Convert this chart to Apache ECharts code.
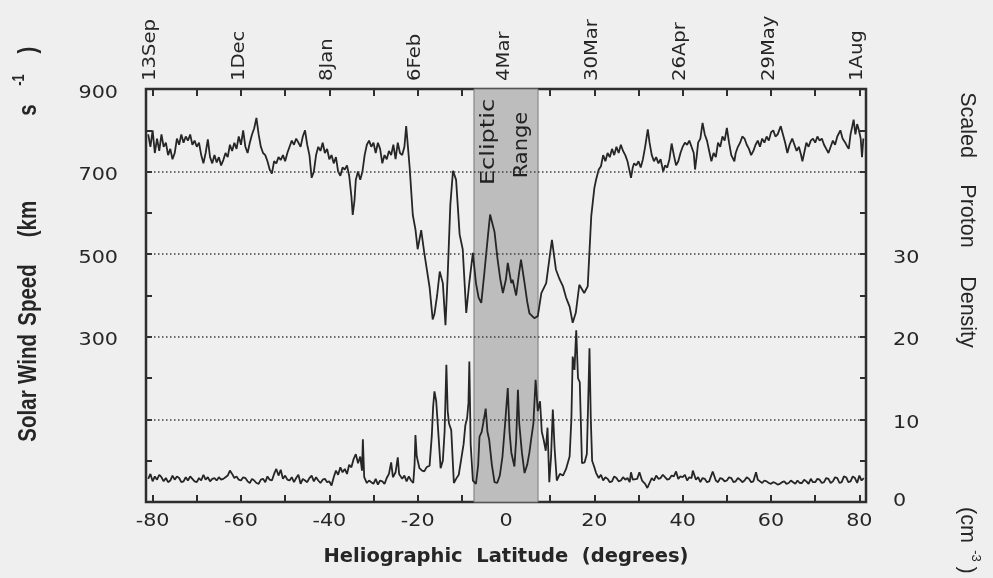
<!DOCTYPE html>
<html>
<head>
<meta charset="utf-8">
<script src="https://cdn.jsdelivr.net/npm/echarts@6/dist/echarts.min.js"></script>
<style>
  html, body { margin: 0; padding: 0; background: #efefef; }
  #chart { width: 993px; height: 578px; }
</style>
</head>
<body>
<div id="chart"></div>
<script>
// Latitude ticks (bottom axis) and the matching spacecraft dates (top axis)
const latitudeTicks = [-80, -60, -40, -20, 0, 20, 40, 60, 80];
const latitudeMinorTicks = [-80, -70, -60, -50, -40, -30, -20, -10, 0, 10, 20, 30, 40, 50, 60, 70, 80];
const dateLabels = ['13Sep', '1Dec', '8Jan', '6Feb', '4Mar', '30Mar', '26Apr', '29May', '1Aug'];
const speedTickLabels = [300, 500, 700, 900];
const speedGridLines = [100, 300, 500, 700];
const densityTickLabels = [0, 10, 20, 30];
const eclipticRange = [-7.25, 7.25];

// Solar wind speed, km/s, against heliographic latitude (deg)
const speedTrace = [
  [-81, 790], [-80.5, 760], [-80, 800], [-79.5, 745], [-79, 780], [-78.5, 750], [-78, 790], [-77.5, 760],
  [-77, 770], [-76.5, 740], [-76, 755], [-75.5, 730], [-75, 745], [-74.5, 780], [-74, 765], [-73.5, 790],
  [-73, 770], [-72.5, 785], [-72, 775], [-71.5, 790], [-71, 765], [-70.5, 775], [-70, 760], [-69.5, 770],
  [-69, 740], [-68.5, 720], [-68, 745], [-67.5, 778], [-67, 735], [-66.5, 720], [-66, 740], [-65.5, 722],
  [-65, 735], [-64.5, 715], [-64, 728], [-63.5, 745], [-63, 735], [-62.5, 765], [-62, 750], [-61.5, 770],
  [-61, 755], [-60.5, 785], [-60, 765], [-59.5, 800], [-59, 760], [-58.5, 745], [-58, 770], [-57.5, 790],
  [-57, 805], [-56.5, 830], [-56, 790], [-55.5, 760], [-55, 745], [-54.5, 740], [-54, 725], [-53.5, 705],
  [-53, 695], [-52.5, 725], [-52, 720], [-51.5, 735], [-51, 728], [-50.5, 740], [-50, 725], [-49.5, 745],
  [-49, 760], [-48.5, 775], [-48, 765], [-47.5, 780], [-47, 770], [-46.5, 760], [-46, 785], [-45.5, 800],
  [-45, 765], [-44.5, 740], [-44, 685], [-43.5, 700], [-43, 740], [-42.5, 760], [-42, 750], [-41.5, 770],
  [-41, 745], [-40.5, 755], [-40, 730], [-39.5, 740], [-39, 720], [-38.5, 735], [-38, 700], [-37.5, 690],
  [-37, 710], [-36.5, 705], [-36, 715], [-35.5, 690], [-35, 640], [-34.7, 595], [-34.3, 630], [-34, 680],
  [-33.5, 700], [-33, 680], [-32.5, 700], [-32, 740], [-31.5, 765], [-31, 775], [-30.5, 760], [-30, 770],
  [-29.5, 745], [-29, 770], [-28.5, 755], [-28, 720], [-27.5, 740], [-27, 730], [-26.5, 750], [-26, 740],
  [-25.5, 765], [-25, 730], [-24.5, 770], [-24, 745], [-23.5, 740], [-23, 760], [-22.6, 810], [-22.2, 760],
  [-21.8, 708], [-21.1, 595], [-20.5, 560], [-20, 512], [-19.2, 558], [-18.5, 503], [-17.3, 420], [-16.6, 342],
  [-16.2, 355], [-15.6, 400], [-15, 458], [-14.3, 430], [-13.7, 328], [-13.2, 450], [-12.6, 620], [-12, 702],
  [-11.3, 680], [-10.5, 548], [-9.8, 512], [-9, 358], [-8.3, 432], [-7.5, 503], [-6.8, 430], [-6.2, 395],
  [-5.6, 382], [-4.9, 455], [-4.1, 543], [-3.6, 596], [-3.1, 575], [-2.6, 554], [-1.9, 487], [-1.3, 440],
  [-0.7, 406], [0, 440], [0.4, 479], [1.2, 430], [1.5, 438], [2.3, 400], [2.9, 450], [3.4, 487],
  [4.2, 430], [4.8, 385], [5.3, 357], [6.4, 345], [7.2, 350], [8, 406], [9.1, 430], [9.8, 487],
  [10.4, 535], [11.3, 463], [12.1, 440], [12.9, 422], [13.6, 395], [14.4, 373], [15.1, 334], [15.8, 358],
  [16.6, 426], [17.7, 406], [18.5, 422], [19.3, 592], [20, 660], [20.4, 681], [21, 705], [21.5, 713],
  [22, 740], [22.5, 725], [23, 745], [23.5, 735], [24, 755], [24.5, 740], [25, 760], [25.5, 745],
  [26, 765], [26.5, 750], [27, 740], [27.5, 725], [28, 700], [28.3, 685], [28.7, 710], [29, 720],
  [29.5, 715], [30, 725], [30.5, 710], [31, 730], [31.5, 760], [32.1, 802], [32.5, 770], [33, 740],
  [33.5, 725], [34, 735], [34.5, 720], [35, 730], [35.6, 700], [36, 715], [36.5, 710], [37, 730],
  [37.5, 768], [38, 740], [38.5, 715], [39, 725], [39.5, 745], [40, 760], [40.5, 770], [41, 765],
  [41.5, 775], [42, 760], [42.5, 745], [42.8, 705], [43.2, 740], [43.5, 770], [44, 780], [44.5, 818],
  [45, 790], [45.5, 775], [46, 750], [46.5, 725], [47, 745], [47.5, 735], [48, 770], [48.5, 760],
  [49, 785], [49.5, 775], [50, 806], [50.5, 770], [51, 740], [51.7, 725], [52, 745], [52.5, 760],
  [53, 770], [53.5, 785], [54, 780], [54.5, 765], [55, 755], [55.5, 740], [56, 750], [56.5, 765],
  [57, 775], [57.5, 760], [58, 780], [58.5, 770], [59, 785], [59.5, 775], [60, 795], [60.5, 800],
  [61, 785], [61.5, 790], [62.2, 810], [62.7, 790], [63.2, 770], [63.7, 745], [64.2, 765], [64.8, 780],
  [65.3, 765], [65.8, 750], [66.3, 760], [66.8, 740], [67.1, 725], [67.6, 750], [68, 770], [68.5, 760],
  [69, 775], [69.5, 780], [70, 770], [70.5, 785], [71, 775], [71.5, 780], [72, 765], [72.5, 755],
  [73, 745], [73.5, 760], [74, 775], [74.5, 765], [75, 785], [75.7, 800], [76.2, 780], [76.8, 770],
  [77.3, 760], [77.6, 755], [78, 790], [78.4, 810], [78.7, 826], [79.1, 790], [79.5, 815], [79.9, 800],
  [80.3, 780], [80.6, 735], [80.9, 780]
];

// Scaled proton density, cm^-3, against heliographic latitude (deg)
const densityTrace = [
  [-81, 2.8], [-80.5, 3.4], [-80, 2.5], [-79.5, 3.1], [-79, 2.7], [-78.5, 3.3], [-78, 3.0], [-77.5, 2.5],
  [-77, 2.9], [-76.5, 2.4], [-76, 2.6], [-75.5, 3.2], [-75, 2.7], [-74.5, 3.1], [-74, 2.9], [-73.5, 2.4],
  [-73, 2.5], [-72.5, 3.0], [-72, 2.6], [-71.5, 3.1], [-71, 2.8], [-70.5, 2.5], [-70, 2.4], [-69.5, 2.9],
  [-69, 2.6], [-68.5, 3.3], [-68, 2.7], [-67.5, 3.0], [-67, 2.5], [-66.5, 2.8], [-66, 2.9], [-65.5, 2.6],
  [-65, 3.0], [-64.5, 2.7], [-64, 2.8], [-63.5, 3.0], [-63, 3.2], [-62.5, 3.8], [-62, 3.4], [-61.5, 2.9],
  [-61, 3.1], [-60.5, 2.7], [-60, 2.6], [-59.5, 3.0], [-59, 2.9], [-58.5, 2.5], [-58, 2.3], [-57.5, 2.8],
  [-57, 2.6], [-56.5, 2.3], [-56, 2.2], [-55.5, 2.7], [-55, 2.8], [-54.5, 2.4], [-54, 3.1], [-53.5, 2.7],
  [-53, 2.6], [-52.5, 3.4], [-52, 4.0], [-51.5, 3.2], [-51, 3.9], [-50.5, 2.8], [-50, 3.2], [-49.5, 2.7],
  [-49, 2.6], [-48.5, 3.0], [-48, 2.4], [-47.5, 2.9], [-47, 3.3], [-46.5, 2.2], [-46, 2.8], [-45.5, 2.6],
  [-45, 2.4], [-44.5, 2.9], [-44, 3.2], [-43.5, 2.5], [-43, 3.0], [-42.5, 2.6], [-42, 2.3], [-41.5, 2.7],
  [-41, 2.8], [-40.5, 2.4], [-40, 2.5], [-39.5, 2.0], [-39, 3.0], [-38.5, 3.8], [-38, 3.3], [-37.5, 4.2],
  [-37, 3.6], [-36.5, 4.0], [-36, 3.4], [-35.5, 4.5], [-35, 4.2], [-34.5, 5.2], [-34, 5.8], [-33.5, 4.7],
  [-33, 5.5], [-32.6, 3.8], [-32.4, 7.6], [-32.1, 3.0], [-31.5, 2.3], [-31, 2.6], [-30.5, 2.4], [-30, 2.2],
  [-29.5, 2.8], [-29, 2.1], [-28.5, 2.6], [-28, 2.5], [-27.5, 2.2], [-27, 2.9], [-26.5, 3.4], [-26, 4.8],
  [-25.6, 3.0], [-25, 3.6], [-24.5, 5.4], [-24.2, 3.4], [-23.5, 2.8], [-23, 3.2], [-22.5, 2.5], [-22, 3.1],
  [-21.5, 2.6], [-21, 2.3], [-20.7, 4.5], [-20.5, 8.1], [-20.2, 5.5], [-19.6, 4.1], [-19, 3.8], [-18.5, 3.7],
  [-18, 4.2], [-17.3, 4.4], [-16.8, 8.0], [-16.5, 11.5], [-16.2, 13.4], [-15.8, 12.2], [-15.4, 9.0], [-14.8, 4.1],
  [-14.3, 5.0], [-13.9, 8.5], [-13.5, 16.6], [-13.2, 11.0], [-12.9, 9.5], [-12.4, 8.7], [-11.8, 2.3], [-11.3, 2.8],
  [-10.7, 3.3], [-10.1, 5.3], [-9.6, 7.0], [-9.2, 9.3], [-8.8, 10.2], [-8.5, 12.0], [-8.3, 17.0], [-8.0, 7.0],
  [-7.5, 2.6], [-6.8, 2.2], [-6.3, 4.5], [-6.0, 7.9], [-5.5, 8.5], [-5.0, 10.0], [-4.6, 11.3], [-4.2, 8.5],
  [-3.8, 7.5], [-3.2, 4.5], [-2.6, 2.4], [-2.0, 2.3], [-1.4, 3.2], [-0.8, 5.5], [-0.2, 9.5], [0.4, 13.8],
  [0.8, 8.5], [1.2, 6.0], [1.9, 4.3], [2.3, 7.5], [2.7, 13.6], [3.0, 9.5], [3.6, 6.0], [4.2, 3.5],
  [4.8, 4.5], [5.3, 6.0], [5.7, 7.6], [6.2, 9.5], [6.7, 14.8], [7.2, 11.0], [7.7, 12.2], [8.1, 8.5],
  [8.5, 7.6], [9.0, 6.2], [9.4, 9.0], [9.8, 2.4], [10.2, 5.5], [10.6, 11.2], [11.0, 6.5], [11.5, 2.6],
  [12.2, 3.4], [12.9, 3.2], [13.6, 4.0], [14.4, 5.5], [14.8, 10.0], [15.1, 17.6], [15.5, 16.0], [15.9, 20.8],
  [16.3, 15.0], [16.7, 14.5], [17.2, 4.7], [17.8, 4.8], [18.3, 5.8], [18.6, 12.0], [18.9, 18.6], [19.2, 10.0],
  [19.5, 5.0], [20.0, 4.2], [20.4, 3.5], [21, 2.9], [21.5, 3.3], [22, 2.6], [22.5, 3.0], [23, 2.8],
  [23.5, 2.4], [24, 2.5], [24.5, 3.1], [25, 2.9], [25.5, 2.5], [26, 2.6], [26.5, 3.0], [27, 2.7],
  [27.5, 2.9], [28, 2.4], [28.3, 3.6], [28.7, 2.7], [29, 2.5], [29.7, 2.8], [30.2, 3.6], [30.8, 2.6],
  [31.5, 2.2], [32, 1.7], [32.5, 2.3], [33, 2.9], [33.5, 2.6], [34, 3.2], [34.5, 2.8], [35, 2.9],
  [35.5, 3.3], [36, 3.0], [36.5, 2.7], [37, 2.8], [37.5, 3.2], [38, 3.1], [38.5, 3.7], [39, 2.8],
  [39.5, 3.1], [40, 3.0], [40.5, 3.3], [41, 2.6], [41.5, 3.0], [42, 2.9], [42.3, 3.8], [43, 2.7],
  [43.5, 3.0], [44, 2.4], [44.5, 2.9], [45, 2.8], [45.5, 2.4], [46, 2.5], [46.8, 3.7], [47.5, 2.6],
  [48, 2.4], [48.5, 2.9], [49, 2.8], [49.5, 2.5], [50, 2.6], [50.5, 3.0], [51, 2.9], [51.5, 2.4],
  [52, 2.5], [52.5, 2.9], [53, 2.7], [53.5, 2.4], [54, 2.6], [54.5, 3.0], [55, 2.8], [55.5, 2.4],
  [56, 2.5], [56.6, 3.6], [57, 2.7], [57.5, 2.5], [58, 2.3], [58.5, 2.6], [59, 2.5], [59.5, 2.3],
  [60, 2.2], [60.5, 2.4], [61, 2.3], [61.5, 2.1], [62, 2.2], [62.5, 2.4], [63, 2.5], [63.5, 2.2],
  [64, 2.3], [64.5, 2.6], [65, 2.4], [65.5, 2.2], [66, 2.6], [66.5, 2.3], [67, 2.3], [67.5, 2.7],
  [68, 2.5], [68.5, 2.2], [69, 2.8], [69.5, 2.4], [70, 2.4], [70.5, 2.8], [71, 2.7], [71.5, 2.3],
  [72, 2.4], [72.5, 2.9], [73, 2.8], [73.5, 2.3], [74, 2.5], [74.5, 3.0], [75, 2.9], [75.5, 2.3],
  [76, 2.4], [76.5, 3.1], [77, 3.0], [77.5, 2.4], [78, 2.5], [78.5, 3.1], [79, 2.9], [79.5, 2.3],
  [80, 3.2], [80.5, 2.6], [81, 2.9]
];

const INK = '#262626';
const chart = echarts.init(document.getElementById('chart'), null, { renderer: 'canvas' });

const gridBox = { left: 146, right: 127, top: 89, bottom: 76 };
const tickStyle = { color: '#2e2e2e', width: 2 };

chart.setOption({
  backgroundColor: '#efefef',
  animation: false,
  grid: {
    left: gridBox.left, right: gridBox.right, top: gridBox.top, bottom: gridBox.bottom,
    show: true, borderColor: '#2e2e2e', borderWidth: 2.5, backgroundColor: 'transparent'
  },
  xAxis: [
    {
      type: 'value', position: 'bottom', min: -81.5, max: 81.5,
      axisLine: { show: false, onZero: false },
      axisTick: { show: true, inside: true, length: 7, customValues: latitudeMinorTicks, lineStyle: tickStyle },
      axisLabel: { show: false },
      splitLine: { show: false }
    },
    {
      type: 'value', position: 'top', min: -81.5, max: 81.5,
      axisLine: { show: false, onZero: false },
      axisTick: { show: true, inside: true, length: 7, customValues: latitudeMinorTicks, lineStyle: tickStyle },
      axisLabel: { show: false },
      splitLine: { show: false }
    }
  ],
  yAxis: [
    {
      type: 'value', position: 'left', min: -100, max: 900, interval: 100,
      axisLine: { show: false, onZero: false },
      axisTick: { show: true, inside: true, length: 6, lineStyle: tickStyle },
      axisLabel: { show: false },
      splitLine: { show: false }
    },
    {
      type: 'value', position: 'right', min: 0, max: 50, interval: 5,
      axisLine: { show: false, onZero: false },
      axisTick: { show: true, inside: true, length: 6, lineStyle: tickStyle },
      axisLabel: { show: false },
      splitLine: { show: false }
    }
  ],
  series: [
    {
      // ecliptic band and the dotted reference lines
      type: 'line', xAxisIndex: 0, yAxisIndex: 0, data: [], z: 1, silent: true,
      markArea: {
        silent: true,
        itemStyle: { color: '#bdbdbd', borderColor: '#7a7a7a', borderWidth: 1 },
        data: [[{ xAxis: eclipticRange[0] }, { xAxis: eclipticRange[1] }]]
      },
      markLine: {
        silent: true, symbol: 'none', label: { show: false },
        lineStyle: { type: [1.5, 2.5], color: '#404040', width: 1.6 },
        data: speedGridLines.map(v => ({ yAxis: v }))
      }
    },
    {
      name: 'Solar Wind Speed', type: 'line', xAxisIndex: 0, yAxisIndex: 0, z: 3,
      data: speedTrace, showSymbol: false, symbol: 'none',
      lineStyle: { color: INK, width: 1.8 }
    },
    {
      name: 'Scaled Proton Density', type: 'line', xAxisIndex: 0, yAxisIndex: 1, z: 3,
      data: densityTrace, showSymbol: false, symbol: 'none',
      lineStyle: { color: INK, width: 1.8 }
    }
  ]
});

// Text drawn as graphic elements so that glyph proportions can be tuned
function txt(x, y, text, o) {
  return {
    type: 'text', x: x, y: y, silent: true, z: 100,
    rotation: o.rot || 0, scaleX: o.sx || 1, scaleY: o.sy || 1,
    style: {
      text: text, fontFamily: o.font || 'DejaVu Sans', fontSize: o.size || 18,
      fontWeight: o.weight || 'normal', fill: o.color || INK,
      align: o.align || 'center', verticalAlign: o.valign || 'middle'
    }
  };
}

const gfx = [];
const xPix = v => chart.convertToPixel({ xAxisIndex: 0 }, v);
const ySpeedPix = v => chart.convertToPixel({ yAxisIndex: 0 }, v);
const yDensPix = v => chart.convertToPixel({ yAxisIndex: 1 }, v);
const bottomY = ySpeedPix(-100);
const topY = ySpeedPix(900);
const UP = Math.PI / 2;
const DOWN = -Math.PI / 2;

latitudeTicks.forEach(v => {
  gfx.push(txt(xPix(v), bottomY + 19, String(v), { size: 18, sx: 1.15 }));
});
dateLabels.forEach((d, i) => {
  gfx.push(txt(xPix(latitudeTicks[i]) - 2, topY - 8, d, { size: 17.5, sx: 1.12, rot: UP, align: 'left' }));
});
speedTickLabels.forEach(v => {
  gfx.push(txt(gridBox.left - 28, ySpeedPix(v) + 4, String(v), { size: 18, sx: 1.15, align: 'right' }));
});
densityTickLabels.forEach(v => {
  gfx.push(txt(893, yDensPix(v) + (v === 0 ? -1 : 4), String(v), { size: 18, sx: 1.15, align: 'left' }));
});

// bottom axis title
gfx.push(txt(506, 557, 'Heliographic  Latitude  (degrees)', { size: 19.5, weight: 'bold' }));

// left axis title, laid out word by word along the axis
const leftTitle = { font: 'Liberation Sans', size: 20.5, weight: 'bold', rot: UP, sy: 1.26 };
[['Solar', 416], ['Wind', 359], ['Speed', 295], ['(km', 219], ['s', 110], [')', 50]].forEach(([w, y]) => {
  gfx.push(txt(29, y, w, leftTitle));
});
gfx.push(txt(20, 80, '-1', { font: 'Liberation Sans', size: 13, weight: 'bold', rot: UP, sy: 1.2 }));

// right axis title
const rightTitle = { font: 'Liberation Sans', size: 21.5, rot: DOWN };
[['Scaled', 125], ['Proton', 216], ['Density', 312], ['(cm', 525], [')', 570]].forEach(([w, y]) => {
  gfx.push(txt(967, y, w, rightTitle));
});
gfx.push(txt(976, 556, '-3', { font: 'Liberation Sans', size: 13, rot: DOWN }));

// band caption
const bandMid = xPix(0);
gfx.push(txt(bandMid - 17, 142, 'Ecliptic', { size: 20, sx: 1.2, rot: UP, color: '#222222' }));
gfx.push(txt(bandMid + 16, 145, 'Range', { size: 20, sx: 1.05, rot: UP, color: '#222222' }));

chart.setOption({ graphic: gfx });
</script>
</body>
</html>
